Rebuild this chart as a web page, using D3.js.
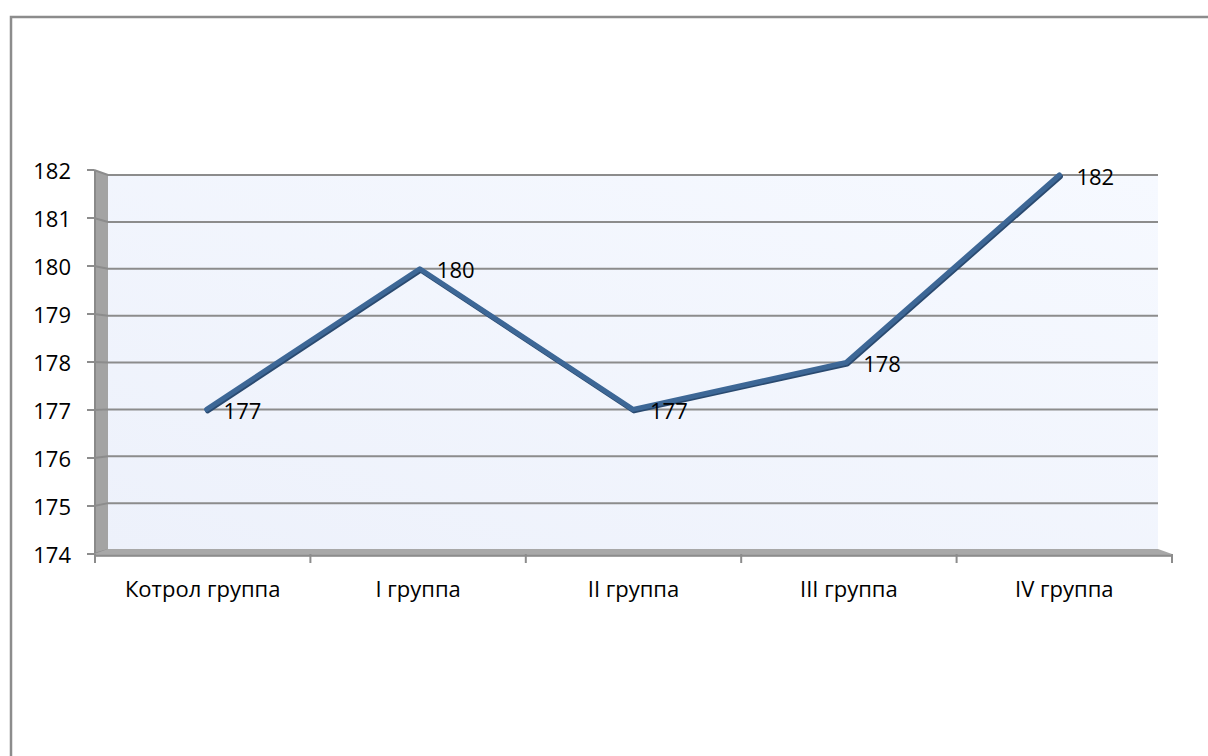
<!DOCTYPE html>
<html>
<head>
<meta charset="utf-8">
<script src="https://cdn.jsdelivr.net/npm/d3@7"></script>
<style>
  body { margin: 0; background: #fff; }
  text { font-family: "Open Sans", "Noto Sans", sans-serif; fill: #000; }
</style>
</head>
<body>
<script>
var categories = ["Котрол группа", "I группа", "II группа", "III группа", "IV группа"];
var values = [177, 180, 177, 178, 182];
var yTicks = [174, 175, 176, 177, 178, 179, 180, 181, 182];

var w = 1208, h = 756;
var svg = d3.select("body").append("svg").attr("width", w).attr("height", h);

// outer frame (left + top only visible)
svg.append("path")
  .attr("d", "M11,756L11,17L1208,17")
  .attr("fill", "none").attr("stroke", "#8c8c8c").attr("stroke-width", 2.5);

// back wall and front (side wall) scales
var yBack = d3.scaleLinear().domain([174, 182]).range([550, 175]);
var yFront = d3.scaleLinear().domain([174, 182]).range([554, 170]);
var xBack = d3.scaleBand().domain(categories).range([100, 1166]);
var xAxis = d3.scaleBand().domain(categories).range([95, 1172]);
var backL = 108, backR = 1158, frontL = 94;

var defs = svg.append("defs");
var grad = defs.append("linearGradient").attr("id", "wall")
  .attr("x1", "0%").attr("y1", "100%").attr("x2", "100%").attr("y2", "0%");
grad.append("stop").attr("offset", "0%").attr("stop-color", "#edf1fb");
grad.append("stop").attr("offset", "100%").attr("stop-color", "#f6f9ff");

svg.append("rect")
  .attr("x", backL).attr("y", yBack(182))
  .attr("width", backR - backL).attr("height", yBack(174) - yBack(182))
  .attr("fill", "url(#wall)");

// side wall
svg.append("polygon")
  .attr("points", [[frontL, yFront(182)], [backL, yBack(182)], [backL, yBack(174)], [frontL, yFront(174)]].join(" "))
  .attr("fill", "#a3a3a3");
svg.append("line")
  .attr("x1", frontL + 1).attr("x2", frontL + 1)
  .attr("y1", yFront(182)).attr("y2", yFront(174))
  .attr("stroke", "#8a8a8a").attr("stroke-width", 2);

// gridlines
var grid = svg.append("g");
yTicks.forEach(function (v) {
  grid.append("path")
    .attr("d", "M" + frontL + "," + yFront(v) + "L" + backL + "," + yBack(v) + "L" + backR + "," + yBack(v))
    .attr("fill", "none").attr("stroke", "#8c8c8c").attr("stroke-width", 2);
  grid.append("line")
    .attr("x1", 87).attr("x2", frontL)
    .attr("y1", yFront(v)).attr("y2", yFront(v))
    .attr("stroke", "#8c8c8c").attr("stroke-width", 2);
  grid.append("text")
    .attr("x", 71).attr("y", yFront(v) + 1)
    .attr("dy", "0.35em")
    .attr("text-anchor", "end")
    .style("font-size", "22px")
    .text(v);
});

// floor
var fy = yBack(174);
svg.append("polygon")
  .attr("points", [[frontL, 554], [backL, fy - 1], [backR, fy - 1], [1172, 554], [1172, 557], [frontL, 557]].join(" "))
  .attr("fill", "#a8a8a8");
svg.append("line")
  .attr("x1", frontL).attr("x2", 1172).attr("y1", 555.5).attr("y2", 555.5)
  .attr("stroke", "#8c8c8c").attr("stroke-width", 1.5);

// category ticks
var tickXs = categories.map(function (c) { return xAxis(c); }).concat([xAxis.range()[1]]);
tickXs.forEach(function (x) {
  svg.append("line")
    .attr("x1", x).attr("x2", x).attr("y1", 554).attr("y2", 563)
    .attr("stroke", "#8c8c8c").attr("stroke-width", 2);
});
svg.selectAll(".cat").data(categories).enter().append("text")
  .attr("class", "cat")
  .attr("x", function (d) { return xAxis(d) + xAxis.bandwidth() / 2; })
  .attr("y", 589)
  .attr("dy", "0.35em")
  .attr("text-anchor", "middle")
  .style("font-size", "22px")
  .text(function (d) { return d; });

// data line
var pts = categories.map(function (c, i) { return { c: c, v: values[i] }; });
var line = d3.line()
  .x(function (d) { return xBack(d.c) + xBack.bandwidth() / 2; })
  .y(function (d) { return yBack(d.v); });

svg.append("path").datum(pts)
  .attr("d", line)
  .attr("transform", "translate(1,1.5)")
  .attr("fill", "none").attr("stroke", "#2a4a70").attr("stroke-width", 5)
  .attr("stroke-linecap", "round").attr("stroke-linejoin", "round");
svg.append("path").datum(pts)
  .attr("d", line)
  .attr("fill", "none").attr("stroke", "#3d6796").attr("stroke-width", 5)
  .attr("stroke-linecap", "round").attr("stroke-linejoin", "round");

svg.selectAll(".lbl").data(pts).enter().append("text")
  .attr("class", "lbl")
  .attr("x", function (d) { return xBack(d.c) + xBack.bandwidth() / 2 + 17; })
  .attr("y", function (d) { return yBack(d.v) + 2; })
  .attr("dy", "0.35em")
  .style("font-size", "22px")
  .text(function (d) { return d.v; });
</script>
</body>
</html>
